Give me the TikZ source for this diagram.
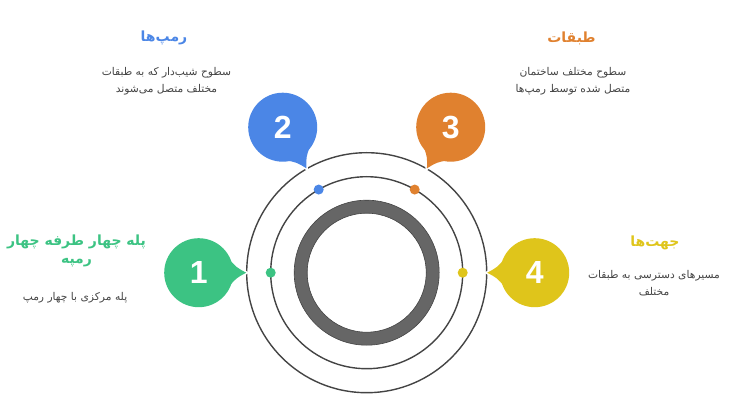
\documentclass[tikz,border=0pt]{standalone}
\usepackage{fontspec}
\setmainfont{Liberation Sans}
\newfontfamily\fa[Script=Arabic]{DejaVu Sans}
\TeXXeTstate=1
\usetikzlibrary{calc}
\definecolor{cg}{HTML}{3CC383}
\definecolor{cb}{HTML}{4B86E6}
\definecolor{co}{HTML}{E0812F}
\definecolor{cy}{HTML}{DFC51B}
\definecolor{ln}{HTML}{444444}
\definecolor{ringc}{HTML}{666666}
\definecolor{tx}{HTML}{444444}
\tikzset{
  orbit/.style={draw=ln, line width=1.4pt},
  numtext/.style={text=white, font=\fontsize{32}{34}\selectfont\bfseries, inner sep=0pt},
  titletext/.style={font=\fa\bfseries\fontsize{14}{18}\selectfont, align=center, inner sep=0pt},
  desctext/.style={text=tx, font=\fa\fontsize{10.7}{17}\selectfont, align=center, inner sep=0pt},
}
\newcommand{\bubbletail}[2]{% center, direction angle (towards ring)
  ($(#1)+(#2+26:33)$) .. controls ($(#1)+(#2+8:38)$) .. ($(#1)+(#2:47.5)$)
  .. controls ($(#1)+(#2-8:38)$) .. ($(#1)+(#2-26:33)$) -- cycle}
\newcommand{\bubble}[3]{% center, angle, colour
  \fill[white, draw=white, line width=3pt] \bubbletail{#1}{#2};
  \fill[white, draw=white, line width=3pt] (#1) circle[radius=34.5];
  \fill[#3] \bubbletail{#1}{#2};
  \fill[#3] (#1) circle[radius=34.5];}
\begin{document}
\begin{tikzpicture}[x=1pt,y=1pt]
\useasboundingbox (0,0) rectangle (752,407);
\coordinate (c) at (366.7,134.3);
% orbits
\draw[orbit] (c) circle[radius=120];
\draw[orbit] (c) circle[radius=96];
\fill[ringc, even odd rule, draw=ln, line width=0.6pt] (c) circle[radius=72.5] (c) circle[radius=59.5];
% dots
\fill[cg] ($(c)+(180:96)$) circle[radius=5];
\fill[cb] ($(c)+(120:96)$) circle[radius=5];
\fill[co] ($(c)+(60:96)$) circle[radius=5];
\fill[cy] ($(c)+(0:96)$) circle[radius=5];
% bubble centres
\coordinate (p1) at ($(c)+(180:168)$);
\coordinate (p2) at ($(c)+(120:168)$);
\coordinate (p3) at ($(c)+(60:168)$);
\coordinate (p4) at ($(c)+(0:168)$);
\bubble{p1}{0}{cg}
\bubble{p2}{-60}{cb}
\bubble{p3}{240}{co}
\bubble{p4}{180}{cy}
\node[numtext] (n1) at (p1) {1};
\node[numtext] (n2) at (p2) {2};
\node[numtext] (n3) at (p3) {3};
\node[numtext] (n4) at (p4) {4};
% texts
\node[titletext, text=cg] (t1) at (76.5,156) {\beginR پله چهار طرفه چهار\endR\\\beginR رمپه\endR};
\node[desctext] (d1) at (75,109) {\beginR پله مرکزی با چهار رمپ\endR};
\node[titletext, text=cb] (t2) at (164,369) {\beginR رمپ‌ها\endR};
\node[desctext] (d2) at (166.5,325.5) {\beginR سطوح شیب‌دار که به طبقات\endR\\\beginR مختلف متصل می‌شوند\endR};
\node[titletext, text=co] (t3) at (571.5,369) {\beginR طبقات\endR};
\node[desctext] (d3) at (573,326) {\beginR سطوح مختلف ساختمان\endR\\\beginR متصل شده توسط رمپ‌ها\endR};
\node[titletext, text=cy] (t4) at (655,164) {\beginR جهت‌ها\endR};
\node[desctext] (d4) at (654,123.5) {\beginR مسیرهای دسترسی به طبقات\endR\\\beginR مختلف\endR};
\end{tikzpicture}
\end{document}
